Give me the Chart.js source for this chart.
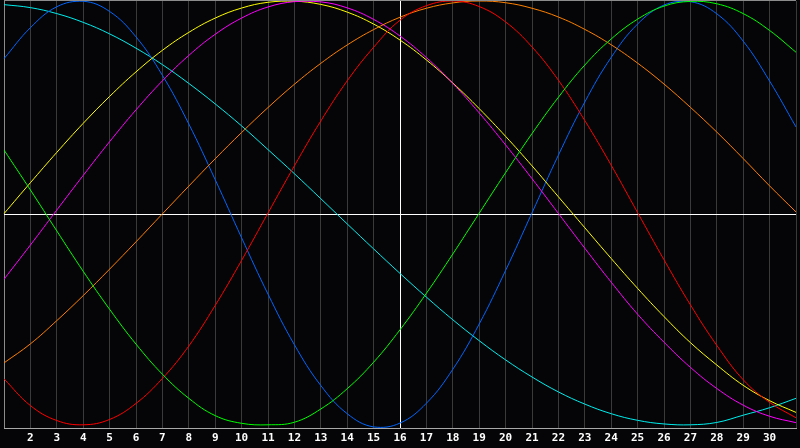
<!DOCTYPE html>
<html>
<head>
<meta charset="utf-8">
<script src="https://cdn.jsdelivr.net/npm/chart.js@4/dist/chart.umd.min.js"></script>
<style>
html,body{margin:0;padding:0;background:#050507;overflow:hidden;}
canvas{display:block;}
</style>
</head>
<body>
<canvas id="c" width="800" height="448"></canvas>
<script>
const categories = ['1','2','3','4','5','6','7','8','9','10','11','12','13','14','15','16','17','18','19','20','21','22','23','24','25','26','27','28','29','30','31'];
const markedCategory = '16';

const cyanVals    = [0.983,0.969,0.941,0.900,0.846,0.779,0.702,0.614,0.518,0.415,0.304,0.191,0.074,-0.044,-0.161,-0.276,-0.387,-0.493,-0.591,-0.681,-0.761,-0.831,-0.888,-0.933,-0.964,-0.981,-0.985,-0.974,-0.940,-0.905,-0.861];
const blueVals    = [0.73,0.875,0.973,0.999,0.951,0.832,0.652,0.424,0.163,-0.109,-0.373,-0.610,-0.801,-0.933,-0.995,-0.977,-0.884,-0.725,-0.513,-0.262,0.008,0.278,0.527,0.736,0.892,0.981,0.997,0.940,0.812,0.625,0.41];
const yellowVals  = [0.004,0.149,0.291,0.427,0.553,0.668,0.769,0.853,0.920,0.967,0.994,0.999,0.984,0.948,0.892,0.817,0.724,0.616,0.496,0.366,0.228,0.083,-0.062,-0.206,-0.346,-0.478,-0.600,-0.705,-0.800,-0.872,-0.927];
const magentaVals = [-0.303,-0.143,0.021,0.183,0.341,0.490,0.626,0.745,0.844,0.920,0.972,0.997,0.996,0.968,0.914,0.836,0.735,0.614,0.476,0.326,0.168,0.005,-0.158,-0.317,-0.467,-0.598,-0.716,-0.815,-0.893,-0.945,-0.975];
const orangeVals  = [-0.695,-0.606,-0.497,-0.380,-0.256,-0.128,0.003,0.133,0.261,0.384,0.501,0.610,0.708,0.794,0.866,0.924,0.966,0.991,1.000,0.992,0.966,0.925,0.867,0.795,0.709,0.611,0.502,0.386,0.262,0.134,0.012];
const redVals     = [-0.77,-0.895,-0.965,-0.985,-0.96,-0.885,-0.768,-0.616,-0.426,-0.215,0.007,0.228,0.438,0.626,0.783,0.91,0.978,1.000,0.974,0.902,0.785,0.629,0.440,0.231,0.009,-0.212,-0.423,-0.613,-0.774,-0.88,-0.952];
const greenVals   = [0.302,0.115,-0.077,-0.266,-0.444,-0.607,-0.748,-0.861,-0.942,-0.978,-0.985,-0.973,-0.911,-0.816,-0.692,-0.540,-0.369,-0.185,0.006,0.196,0.379,0.549,0.700,0.822,0.915,0.976,0.998,0.987,0.941,0.862,0.76];

const seriesList = [
  {name:'green',   data: greenVals,   color:'#00ff00'},
  {name:'red',     data: redVals,     color:'#ff0000'},
  {name:'orange',  data: orangeVals,  color:'#ff8000'},
  {name:'magenta', data: magentaVals, color:'#ff00ff'},
  {name:'yellow',  data: yellowVals,  color:'#ffff00'},
  {name:'blue',    data: blueVals,    color:'#0066ff'},
  {name:'cyan',    data: cyanVals,    color:'#00eeee'}
];

const frameTop = {
  id: 'frameTop',
  afterDraw(chart) {
    const ctx = chart.ctx, a = chart.chartArea;
    ctx.save();
    ctx.strokeStyle = '#8c8c8c';
    ctx.lineWidth = 1;
    ctx.beginPath();
    ctx.moveTo(a.left, a.top - 0.5);
    ctx.lineTo(a.right, a.top - 0.5);
    ctx.stroke();
    ctx.restore();
  }
};

new Chart(document.getElementById('c'), {
  type: 'line',
  data: {
    labels: categories,
    datasets: seriesList.map(s => ({
      label: s.name,
      data: s.data,
      borderColor: s.color,
      backgroundColor: s.color,
      borderWidth: 1,
      pointRadius: 0,
      fill: false,
      tension: 0.4
    }))
  },
  options: {
    responsive: false,
    devicePixelRatio: 1,
    animation: false,
    layout: { padding: { top: 1, left: 0, right: 0, bottom: 0 } },
    plugins: { legend: { display: false }, tooltip: { enabled: false } },
    scales: {
      x: {
        type: 'category',
        offset: false,
        grid: {
          drawTicks: false,
          color: ctx => ctx.index === 0 ? '#8c8c8c' : (categories[ctx.index] === markedCategory ? '#ffffff' : '#3a3a3a'),
          lineWidth: 1
        },
        border: { display: true, color: '#a8a8a8', width: 1 },
        ticks: {
          autoSkip: false,
          maxRotation: 0,
          padding: 4,
          color: '#ffffff',
          font: { family: 'DejaVu Sans Mono', size: 11, weight: 'bold' },
          callback: (v, i) => (i === 0 || i === categories.length - 1) ? '' : categories[i]
        },
        afterFit: s => { s.height = 20; }
      },
      y: {
        type: 'linear',
        min: -1,
        max: 1,
        ticks: { display: false, stepSize: 1 },
        grid: {
          drawTicks: false,
          color: ctx => (ctx.tick && ctx.tick.value === 0) ? '#ffffff' : 'rgba(0,0,0,0)',
          lineWidth: 1
        },
        border: { display: false },
        afterFit: s => { s.width = 0; }
      }
    }
  },
  plugins: [frameTop]
});
</script>
</body>
</html>
